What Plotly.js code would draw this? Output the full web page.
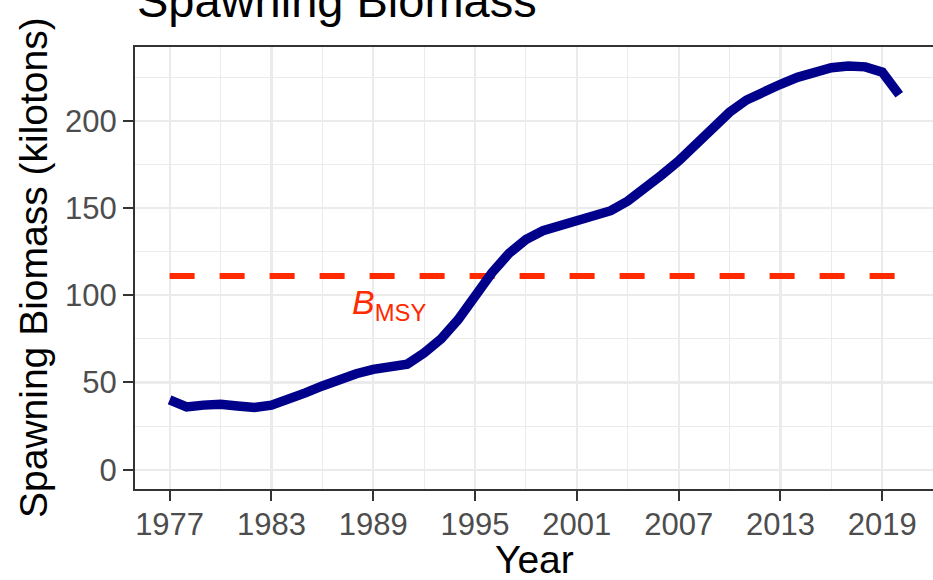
<!DOCTYPE html>
<html>
<head>
<meta charset="utf-8">
<script src="https://cdn.plot.ly/plotly-3.0.1.min.js"></script>
<style>html,body{margin:0;padding:0;background:#fff;}#chart{width:933px;height:580px;}</style>
</head>
<body>
<div id="chart"></div>
<script>
// Data
const years = [1977,1978,1979,1980,1981,1982,1983,1984,1985,1986,1987,1988,1989,1990,1991,1992,1993,1994,1995,1996,1997,1998,1999,2000,2001,2002,2003,2004,2005,2006,2007,2008,2009,2010,2011,2012,2013,2014,2015,2016,2017,2018,2019,2020];
const spawningBiomass = [40,36,37,37.5,36.5,35.6,37,40,44,48,52,55,57.5,59,60.5,67,75,86,100,113,124,132,137,140,142.5,145,148.5,154,161,169,177,186,196,205,212,217,221,225,228,230.5,231.5,231,228,215];
const bmsy = 111;
const xTickLabels = [1977,1983,1989,1995,2001,2007,2013,2019];
const yTickLabels = [0,50,100,150,200];

const FONT = 'Liberation Sans, Arial, Helvetica, sans-serif';
const RED = '#FF2A00';
const BLUE = '#00008B';

const traces = [
  {
    x: years, y: years.map(() => bmsy),
    type: 'scatter', mode: 'lines',
    line: {color: RED, width: 6, dash: '25px,25px'},
    hoverinfo: 'skip', showlegend: false
  },
  {
    x: years, y: spawningBiomass,
    type: 'scatter', mode: 'lines',
    line: {color: BLUE, width: 9.5},
    showlegend: false
  }
];

const gridMajor = '#EBEBEB';
const layout = {
  width: 933, height: 580,
  margin: {l: 135, r: 0, t: 47, b: 91, pad: 0},
  paper_bgcolor: '#FFFFFF', plot_bgcolor: '#FFFFFF',
  font: {family: FONT, color: '#4D4D4D'},
  showlegend: false,
  xaxis: {
    range: [1974.96, 2021.99],
    tickmode: 'array', tickvals: xTickLabels, ticktext: xTickLabels.map(String),
    ticks: 'outside', ticklen: 10, tickwidth: 2, tickcolor: '#333333',
    tickfont: {size: 31, color: '#4D4D4D', family: FONT},
    ticklabelstandoff: -3,
    showline: true, linecolor: '#333333', linewidth: 2, mirror: true,
    showgrid: true, gridcolor: gridMajor, gridwidth: 2.2,
    minor: {tickmode: 'array', tickvals: [1980,1986,1992,1998,2004,2010,2016], showgrid: true, gridcolor: gridMajor, gridwidth: 1.1, ticks: ''},
    zeroline: false, fixedrange: true
  },
  yaxis: {
    range: [-11.1, 242.4],
    tickmode: 'array', tickvals: yTickLabels, ticktext: yTickLabels.map(String),
    ticks: 'outside', ticklen: 10, tickwidth: 2, tickcolor: '#333333',
    tickfont: {size: 31, color: '#4D4D4D', family: FONT},
    ticklabelstandoff: 0,
    showline: true, linecolor: '#333333', linewidth: 2,
    showgrid: true, gridcolor: gridMajor, gridwidth: 2.2,
    minor: {tickmode: 'array', tickvals: [25,75,125,175,225], showgrid: true, gridcolor: gridMajor, gridwidth: 1.1, ticks: ''},
    zeroline: false, fixedrange: true
  },
  annotations: [
    {
      text: 'Spawning Biomass', showarrow: false,
      xref: 'paper', yref: 'paper', x: 0, y: (489 - 0.5) / 442,
      xanchor: 'left', yanchor: 'middle',
      font: {size: 47, color: '#000000', family: FONT}
    },
    {
      text: 'Year', showarrow: false,
      xref: 'paper', yref: 'paper', x: 0.5, y: (489 - 559) / 442,
      xanchor: 'center', yanchor: 'middle', xshift: 0,
      font: {size: 39, color: '#000000', family: FONT}
    },
    {
      text: 'Spawning Biomass (kilotons)', showarrow: false, textangle: -90,
      xref: 'paper', yref: 'paper', x: 0, y: 0.5, xshift: -102,
      xanchor: 'center', yanchor: 'middle',
      font: {size: 39, color: '#000000', family: FONT}
    },
    {
      text: '<i>B</i><sub>MSY</sub>', showarrow: false,
      xref: 'x', yref: 'y', x: 1987.63, y: 95,
      xanchor: 'left', yanchor: 'middle',
      font: {size: 34, color: RED, family: FONT}
    }
  ]
};

Plotly.newPlot('chart', traces, layout, {displayModeBar: false, staticPlot: true});
</script>
</body>
</html>
